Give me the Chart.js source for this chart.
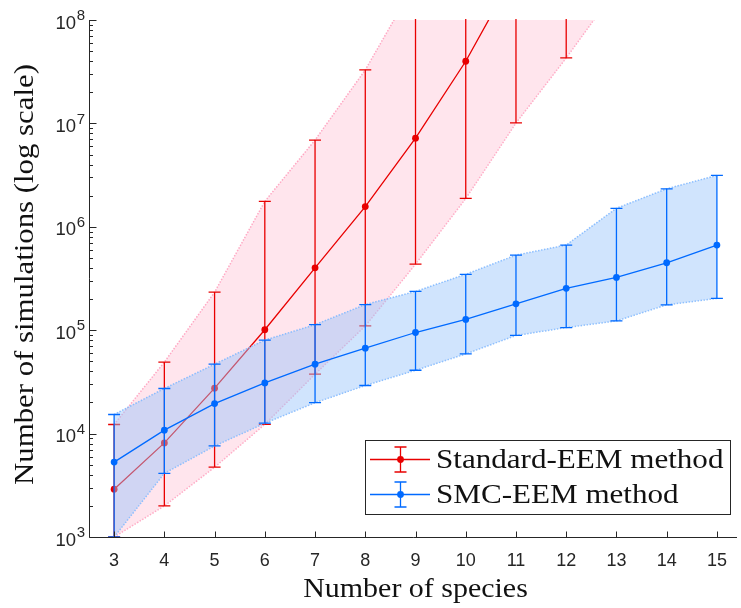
<!DOCTYPE html>
<html>
<head>
<meta charset="utf-8">
<script src="https://cdn.jsdelivr.net/npm/chart.js@4.4.0/dist/chart.umd.min.js"></script>
<style>
  html, body { margin: 0; padding: 0; background: #ffffff; }
  canvas { display: block; }
</style>
</head>
<body>
<canvas id="c" width="741" height="608"></canvas>
<script>
// ---------------- data ----------------
const species = [3, 4, 5, 6, 7, 8, 9, 10, 11, 12, 13, 14, 15];

const seriesNames = ["Standard-EEM method", "SMC-EEM method"];

// Standard-EEM method (values above 1e8 are off the chart, estimated from the slopes)
const stdMean  = [2900, 8130, 27500, 101000, 401000, 1570000, 7200000, 39900000, 3.0e8, 2.2e9, 1.5e10, 1.0e11, 7.0e11];
const stdLower = [1000, 2000, 4730, 12300, 37600, 110000, 435000, 1880000, 10100000, 43000000, 2.0e8, 1.0e9, 5.0e9];
const stdUpper = [12250, 49100, 233000, 1760000, 6900000, 32900000, 2.3e8, 1.5e9, 1.0e10, 7.0e10, 5.0e11, 3.0e12, 2.0e13];

// SMC-EEM method
const smcMean  = [5300, 10800, 19500, 30900, 46900, 67000, 95000, 127000, 180000, 254000, 324000, 449000, 666000];
const smcLower = [1000, 4130, 7600, 12600, 19900, 29200, 41000, 59000, 89000, 106000, 123000, 176000, 203000];
const smcUpper = [15300, 27300, 46900, 80200, 113000, 177000, 237000, 347000, 532000, 666000, 1510000, 2330000, 3140000];

const yTickExponents = [3, 4, 5, 6, 7, 8];
const xTitle = "Number of species";
const yTitle = "Number of simulations (log scale)";

// ---------------- styles ----------------
const RED = "rgb(232,0,0)";
const BLUE = "rgb(0,106,255)";
const RED_FILL = "rgba(255,190,210,0.40)";
const BLUE_FILL = "rgba(150,195,250,0.45)";
const RED_EDGE = "rgba(255,160,190,0.9)";
const BLUE_EDGE = "rgba(130,185,255,0.9)";
const AXIS = "#262626";
const SERIF = "'Liberation Serif', 'Times New Roman', serif";
const SANS = "'Liberation Sans', Arial, sans-serif";

const pts = (ys) => species.map((x, i) => ({ x: x, y: ys[i] }));

function edgeDataset(ys, color, order, fill, bg) {
  return {
    data: pts(ys), borderColor: color, borderWidth: 1.5, borderDash: [1.5, 1.5],
    pointRadius: 0, fill: fill, backgroundColor: bg || "transparent", order: order, tension: 0
  };
}

function drawErrorBars(chart, lo, hi, color) {
  const ctx = chart.ctx, xs = chart.scales.x, ys = chart.scales.y, a = chart.chartArea;
  ctx.save();
  ctx.beginPath();
  ctx.rect(a.left, a.top - 1, a.right - a.left, a.bottom - a.top + 2);
  ctx.clip();
  ctx.strokeStyle = color;
  ctx.lineWidth = 1.3;
  const cap = 6;
  for (let i = 0; i < species.length; i++) {
    const px = xs.getPixelForValue(species[i]);
    const y1 = ys.getPixelForValue(lo[i]);
    const y2 = ys.getPixelForValue(hi[i]);
    ctx.beginPath();
    ctx.moveTo(px, y1); ctx.lineTo(px, y2);
    ctx.moveTo(px - cap, y1); ctx.lineTo(px + cap, y1);
    ctx.moveTo(px - cap, y2); ctx.lineTo(px + cap, y2);
    ctx.stroke();
  }
  ctx.restore();
}

function serifText(ctx, str, x, y, align, sx) {
  ctx.save();
  ctx.translate(x, y);
  ctx.scale(sx, 1);
  ctx.textAlign = align;
  ctx.fillText(str, 0, 0);
  ctx.restore();
}

const errorBarPlugin = {
  id: "errorBars",
  beforeDatasetDraw(chart, args) {
    if (args.index === 2) drawErrorBars(chart, stdLower, stdUpper, RED);
    if (args.index === 5) drawErrorBars(chart, smcLower, smcUpper, BLUE);
  }
};

const axesPlugin = {
  id: "matlabAxes",
  afterDatasetsDraw(chart) {
    const ctx = chart.ctx, a = chart.chartArea, xs = chart.scales.x, ys = chart.scales.y;
    ctx.save();
    ctx.strokeStyle = AXIS;
    ctx.lineWidth = 1;
    const ax = Math.round(a.left) + 0.5;
    const ay = Math.round(a.bottom) + 0.5;
    // axis lines
    ctx.beginPath();
    ctx.moveTo(ax, a.top); ctx.lineTo(ax, ay);
    ctx.lineTo(a.right, ay);
    ctx.stroke();
    // y ticks (major + minor), pointing inwards
    ctx.beginPath();
    yTickExponents.forEach((e, k) => {
      const py = Math.round(ys.getPixelForValue(Math.pow(10, e))) + 0.5;
      ctx.moveTo(ax, py); ctx.lineTo(ax + 7, py);
      if (k < yTickExponents.length - 1) {
        for (let m = 2; m <= 9; m++) {
          const pm = Math.round(ys.getPixelForValue(m * Math.pow(10, e))) + 0.5;
          ctx.moveTo(ax, pm); ctx.lineTo(ax + 3.5, pm);
        }
      }
    });
    // x ticks
    species.forEach((s) => {
      const px = Math.round(xs.getPixelForValue(s)) + 0.5;
      ctx.moveTo(px, ay); ctx.lineTo(px, ay - 6);
    });
    ctx.stroke();

    // tick labels
    ctx.fillStyle = AXIS;
    ctx.textBaseline = "middle";
    species.forEach((s) => {
      ctx.font = "18px " + SANS;
      ctx.textAlign = "center";
      ctx.fillText(String(s), xs.getPixelForValue(s), 561);
    });
    yTickExponents.forEach((e) => {
      const py = ys.getPixelForValue(Math.pow(10, e));
      const right = ax - 4.5;
      ctx.font = "15px " + SANS;
      const supW = ctx.measureText(String(e)).width;
      ctx.textAlign = "left";
      ctx.fillText(String(e), right - supW, py - 4);
      ctx.font = "18.5px " + SANS;
      ctx.textAlign = "right";
      ctx.fillText("10", right - supW - 0.5, py + 3.5);
    });

    // axis titles
    ctx.fillStyle = "#111111";
    ctx.textBaseline = "alphabetic";
    ctx.font = "28px " + SERIF;
    serifText(ctx, xTitle, (a.left + xs.getPixelForValue(15.5)) / 2, 597, "center", 1.07);
    ctx.save();
    ctx.translate(32.5, (a.top + a.bottom) / 2 - 4);
    ctx.rotate(-Math.PI / 2);
    serifText(ctx, yTitle, 0, 0, "center", 1.1);
    ctx.restore();

    // legend
    const L = { x0: 365.5, y0: 440.5, x1: 730.5, y1: 514.5 };
    ctx.fillStyle = "#ffffff";
    ctx.fillRect(L.x0, L.y0, L.x1 - L.x0, L.y1 - L.y0);
    ctx.strokeStyle = AXIS;
    ctx.lineWidth = 1;
    ctx.strokeRect(L.x0, L.y0, L.x1 - L.x0, L.y1 - L.y0);
    const rows = [{ c: RED, y: 459.5, b: 467.5 }, { c: BLUE, y: 494.5, b: 502.5 }];
    rows.forEach((r, i) => {
      ctx.strokeStyle = r.c;
      ctx.fillStyle = r.c;
      ctx.lineWidth = 1.3;
      ctx.beginPath();
      ctx.moveTo(370, r.y); ctx.lineTo(430, r.y);
      ctx.moveTo(400.5, r.y - 12.5); ctx.lineTo(400.5, r.y + 12.5);
      ctx.moveTo(394.5, r.y - 12.5); ctx.lineTo(406.5, r.y - 12.5);
      ctx.moveTo(394.5, r.y + 12.5); ctx.lineTo(406.5, r.y + 12.5);
      ctx.stroke();
      ctx.beginPath();
      ctx.arc(400.5, r.y, 3.4, 0, Math.PI * 2);
      ctx.fill();
      ctx.fillStyle = "#111111";
      ctx.font = "28px " + SERIF;
      serifText(ctx, seriesNames[i], 436, r.b, "left", 1.11);
    });
    ctx.restore();
  }
};

new Chart(document.getElementById("c"), {
  type: "line",
  data: {
    datasets: [
      edgeDataset(stdLower, RED_EDGE, 7, false),
      edgeDataset(stdUpper, RED_EDGE, 6, "-1", RED_FILL),
      {
        label: seriesNames[0], data: pts(stdMean), borderColor: RED, backgroundColor: RED,
        borderWidth: 1.3, pointRadius: 3.4, pointBorderWidth: 0, pointBackgroundColor: RED,
        fill: false, order: 5, tension: 0
      },
      edgeDataset(smcLower, BLUE_EDGE, 4, false),
      edgeDataset(smcUpper, BLUE_EDGE, 3, "-1", BLUE_FILL),
      {
        label: seriesNames[1], data: pts(smcMean), borderColor: BLUE, backgroundColor: BLUE,
        borderWidth: 1.3, pointRadius: 3.4, pointBorderWidth: 0, pointBackgroundColor: BLUE,
        fill: false, order: 2, tension: 0
      }
    ]
  },
  options: {
    responsive: false,
    animation: false,
    devicePixelRatio: 1,
    layout: { padding: { left: 89, top: 20, right: 0, bottom: 71 } },
    plugins: { legend: { display: false }, tooltip: { enabled: false } },
    scales: {
      x: { type: "linear", min: 2.5, max: 15.4, display: false },
      y: { type: "logarithmic", min: 1000, max: 1e8, display: false }
    }
  },
  plugins: [errorBarPlugin, axesPlugin]
});
</script>
</body>
</html>
